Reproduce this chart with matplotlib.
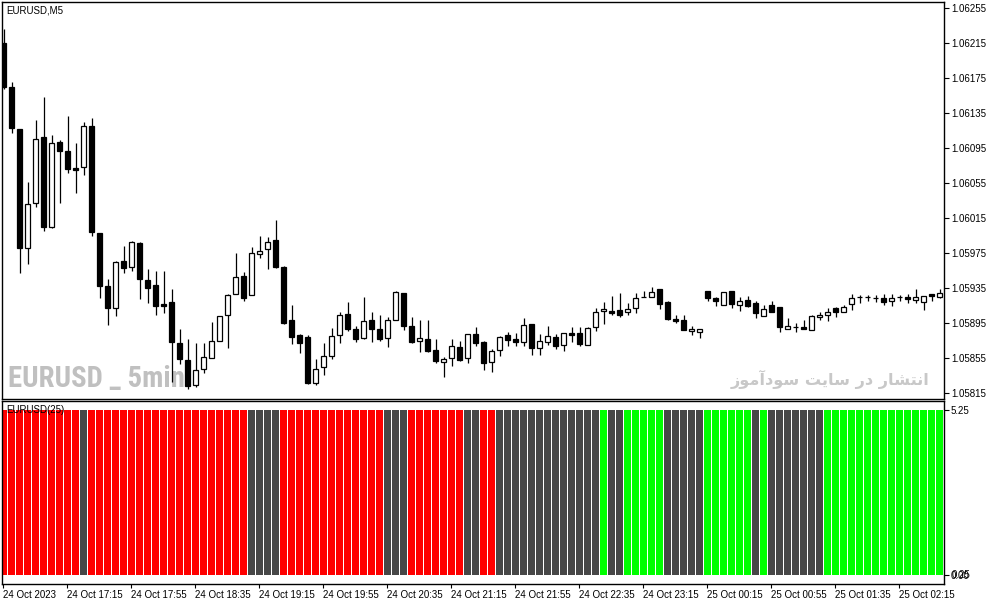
import matplotlib.pyplot as plt
import numpy as np

# EURUSD M5 candles, 24 Oct 2023 16:35 onwards (one entry per bar)
opens = [1.06215, 1.06165, 1.06117, 1.05981, 1.06032, 1.06108, 1.06005, 1.06102, 1.06092, 1.06072,
         1.06074, 1.06120, 1.05998, 1.05938, 1.05912, 1.05966, 1.05959, 1.05987, 1.05944, 1.05939,
         1.05917, 1.05919, 1.05872, 1.05853, 1.05824, 1.05843, 1.05855, 1.05875, 1.05905, 1.05928,
         1.05949, 1.05927, 1.05974, 1.05980, 1.05990, 1.05959, 1.05899, 1.05882, 1.05879, 1.05827,
         1.05845, 1.05858, 1.05882, 1.05906, 1.05888, 1.05878, 1.05899, 1.05888, 1.05878, 1.05899,
         1.05930, 1.05892, 1.05875, 1.05877, 1.05864, 1.05851, 1.05855, 1.05868, 1.05855, 1.05883,
         1.05874, 1.05851, 1.05864, 1.05882, 1.05877, 1.05874, 1.05894, 1.05867, 1.05874, 1.05879,
         1.05870, 1.05884, 1.05884, 1.05870, 1.05891, 1.05909, 1.05909, 1.05910, 1.05908, 1.05912,
         1.05925, 1.05925, 1.05934, 1.05919, 1.05900, 1.05899, 1.05886, 1.05885, 1.05932, 1.05924,
         1.05916, 1.05932, 1.05916, 1.05922, 1.05918, 1.05903, 1.05916, 1.05914, 1.05888, 1.05891,
         1.05891, 1.05887, 1.05902, 1.05905, 1.05912, 1.05908, 1.05917, 1.05925, 1.05925, 1.05924,
         1.05924, 1.05920, 1.05925, 1.05925, 1.05922, 1.05919, 1.05928, 1.05925]
highs = [1.06231, 1.06171, 1.06117, 1.06056, 1.06127, 1.06154, 1.06110, 1.06104, 1.06132, 1.06101,
         1.06125, 1.06130, 1.05998, 1.05946, 1.05966, 1.05983, 1.05989, 1.05988, 1.05957, 1.05955,
         1.05955, 1.05934, 1.05888, 1.05877, 1.05872, 1.05872, 1.05896, 1.05903, 1.05928, 1.05975,
         1.05954, 1.05982, 1.05995, 1.05994, 1.06013, 1.05960, 1.05916, 1.05883, 1.05882, 1.05854,
         1.05872, 1.05890, 1.05908, 1.05919, 1.05892, 1.05925, 1.05908, 1.05905, 1.05902, 1.05932,
         1.05930, 1.05902, 1.05899, 1.05899, 1.05877, 1.05856, 1.05877, 1.05875, 1.05883, 1.05891,
         1.05875, 1.05866, 1.05880, 1.05885, 1.05884, 1.05901, 1.05894, 1.05883, 1.05892, 1.05883,
         1.05884, 1.05891, 1.05891, 1.05891, 1.05912, 1.05919, 1.05926, 1.05930, 1.05918, 1.05930,
         1.05932, 1.05936, 1.05934, 1.05920, 1.05905, 1.05905, 1.05892, 1.05888, 1.05932, 1.05925,
         1.05931, 1.05932, 1.05925, 1.05926, 1.05920, 1.05916, 1.05920, 1.05914, 1.05901, 1.05895,
         1.05899, 1.05905, 1.05908, 1.05912, 1.05914, 1.05916, 1.05928, 1.05927, 1.05927, 1.05927,
         1.05928, 1.05928, 1.05927, 1.05928, 1.05934, 1.05926, 1.05928, 1.05934]
lows = [1.06163, 1.06113, 1.05952, 1.05963, 1.06028, 1.06000, 1.06004, 1.06032, 1.06067, 1.06044,
        1.06064, 1.05995, 1.05924, 1.05893, 1.05903, 1.05952, 1.05955, 1.05923, 1.05918, 1.05904,
        1.05907, 1.05828, 1.05848, 1.05820, 1.05822, 1.05838, 1.05855, 1.05875, 1.05867, 1.05928,
        1.05920, 1.05927, 1.05970, 1.05957, 1.05958, 1.05894, 1.05871, 1.05861, 1.05826, 1.05824,
        1.05836, 1.05854, 1.05872, 1.05886, 1.05874, 1.05877, 1.05874, 1.05875, 1.05868, 1.05899,
        1.05887, 1.05872, 1.05862, 1.05862, 1.05850, 1.05834, 1.05846, 1.05852, 1.05850, 1.05869,
        1.05842, 1.05839, 1.05858, 1.05869, 1.05869, 1.05869, 1.05859, 1.05859, 1.05870, 1.05866,
        1.05863, 1.05874, 1.05869, 1.05870, 1.05886, 1.05894, 1.05905, 1.05902, 1.05905, 1.05907,
        1.05925, 1.05925, 1.05911, 1.05899, 1.05895, 1.05887, 1.05882, 1.05878, 1.05920, 1.05915,
        1.05916, 1.05912, 1.05909, 1.05914, 1.05901, 1.05903, 1.05908, 1.05885, 1.05888, 1.05885,
        1.05888, 1.05887, 1.05899, 1.05898, 1.05902, 1.05908, 1.05910, 1.05918, 1.05920, 1.05919,
        1.05916, 1.05915, 1.05920, 1.05918, 1.05918, 1.05910, 1.05920, 1.05924]
closes = [1.06165, 1.06118, 1.05981, 1.06031, 1.06106, 1.06005, 1.06101, 1.06092, 1.06071, 1.06070,
          1.06120, 1.05999, 1.05938, 1.05912, 1.05965, 1.05958, 1.05988, 1.05946, 1.05935, 1.05915,
          1.05915, 1.05874, 1.05854, 1.05823, 1.05842, 1.05856, 1.05875, 1.05903, 1.05927, 1.05948,
          1.05924, 1.05975, 1.05978, 1.05988, 1.05959, 1.05895, 1.05879, 1.05872, 1.05827, 1.05843,
          1.05858, 1.05880, 1.05905, 1.05888, 1.05877, 1.05898, 1.05888, 1.05877, 1.05899, 1.05931,
          1.05892, 1.05874, 1.05878, 1.05863, 1.05852, 1.05854, 1.05869, 1.05853, 1.05883, 1.05872,
          1.05850, 1.05863, 1.05879, 1.05876, 1.05874, 1.05893, 1.05867, 1.05875, 1.05881, 1.05869,
          1.05884, 1.05882, 1.05871, 1.05890, 1.05908, 1.05911, 1.05907, 1.05905, 1.05911, 1.05924,
          1.05925, 1.05931, 1.05917, 1.05900, 1.05898, 1.05887, 1.05888, 1.05888, 1.05924, 1.05920,
          1.05931, 1.05917, 1.05920, 1.05915, 1.05907, 1.05911, 1.05908, 1.05891, 1.05892, 1.05891,
          1.05888, 1.05903, 1.05905, 1.05908, 1.05908, 1.05914, 1.05924, 1.05925, 1.05925, 1.05924,
          1.05919, 1.05924, 1.05925, 1.05923, 1.05925, 1.05926, 1.05926, 1.05930]

# EURUSD(25) histogram: state runs (colour, number of bars), every bar at full height
hist_runs = [("red", 10), ("grey", 1), ("red", 20), ("grey", 4), ("red", 13), ("grey", 3),
             ("red", 7), ("grey", 2), ("red", 2), ("grey", 13), ("green", 1), ("grey", 2),
             ("green", 5), ("grey", 5), ("green", 6), ("grey", 1), ("green", 1), ("grey", 7),
             ("green", 15)]
hist_level = 5.25

price_ticks = [1.06255, 1.06215, 1.06175, 1.06135, 1.06095, 1.06055, 1.06015,
               1.05975, 1.05935, 1.05895, 1.05855, 1.05815]
time_labels = ["24 Oct 2023", "24 Oct 17:15", "24 Oct 17:55", "24 Oct 18:35", "24 Oct 19:15",
               "24 Oct 19:55", "24 Oct 20:35", "24 Oct 21:15", "24 Oct 21:55", "24 Oct 22:35",
               "24 Oct 23:15", "25 Oct 00:15", "25 Oct 00:55", "25 Oct 01:35", "25 Oct 02:15"]
bars_per_label = 8

watermark_text = "انتشار در سایت سودآموز"

# matplotlib has no arabic shaping, so pick presentation forms by hand
AR_FORMS = {  # isolated, final[, initial, medial]
    "ا": "\ufe8d\ufe8e", "آ": "\ufe81\ufe82", "ر": "\ufead\ufeae", "د": "\ufea9\ufeaa",
    "ز": "\ufeaf\ufeb0", "و": "\ufeed\ufeee",
    "ن": "\ufee5\ufee6\ufee7\ufee8", "ت": "\ufe95\ufe96\ufe97\ufe98",
    "ش": "\ufeb5\ufeb6\ufeb7\ufeb8", "س": "\ufeb1\ufeb2\ufeb3\ufeb4",
    "م": "\ufee1\ufee2\ufee3\ufee4", "ی": "\ufbfc\ufbfd\ufef3\ufef4",
}


def shape_rtl(text):
    out = []
    for i, ch in enumerate(text):
        forms = AR_FORMS.get(ch)
        if forms is None:
            out.append(ch)
            continue
        prev = text[i - 1] if i > 0 else " "
        nxt = text[i + 1] if i + 1 < len(text) else " "
        join_prev = len(AR_FORMS.get(prev, "")) == 4
        join_next = len(forms) == 4 and nxt in AR_FORMS
        out.append(forms[int(join_prev) + 2 * int(join_next)])
    return "".join(out[::-1])


W, H = 991, 605


def box(x0, y0, x1, y1):
    return [x0 / W, 1 - y1 / H, (x1 - x0) / W, (y1 - y0) / H]


SMALL = dict(fontsize=7, family=["Liberation Sans", "DejaVu Sans"])

fig = plt.figure(figsize=(W / 100, H / 100), dpi=100)
ax = fig.add_axes(box(2, 2.3, 944, 399))
ax2 = fig.add_axes(box(2, 401.3, 944, 584), sharex=ax)

o = np.array(opens)
h = np.array(highs)
l = np.array(lows)
c = np.array(closes)
x = np.arange(len(o))

# candles
ax.vlines(x, l, h, color="black", linewidth=0.9, zorder=2)
up = c > o
dn = c < o
eq = c == o
ax.bar(x[up], (c - o)[up], bottom=o[up], width=0.6, facecolor="white",
       edgecolor="black", linewidth=0.9, zorder=3)
ax.bar(x[dn], (o - c)[dn], bottom=c[dn], width=0.6, facecolor="black",
       edgecolor="black", linewidth=0.9, zorder=3)
ax.hlines(o[eq], x[eq] - 0.35, x[eq] + 0.35, color="black", linewidth=0.9, zorder=3)

ax.set_xlim(-0.19, 117.56)
ax.set_ylim(1.058085, 1.062619)
ax.set_yticks(price_ticks)
ax.set_yticklabels([f"{p:.5f}" for p in price_ticks])
ax.yaxis.tick_right()
ax.tick_params(axis="y", direction="out", length=3.5, width=0.8, pad=1.5,
               labelsize=SMALL["fontsize"])
ax.tick_params(axis="x", bottom=False, labelbottom=False)
for t in ax.get_yticklabels():
    t.set_family(SMALL["family"])

ax.text(0.005, 0.979, "EURUSD,M5", transform=ax.transAxes, va="center", ha="left", **SMALL)
wm_left = ax.text(0.0065, 0.05, "EURUSD _ 5min", transform=ax.transAxes, va="center",
                  ha="left", fontsize=24, weight="bold", color="#c0c0c0",
                  family=["Roboto Condensed", "Liberation Sans Narrow", "DejaVu Sans"],
                  fontstretch="condensed", zorder=1)
wm_right = ax.text(0.985, 0.05, shape_rtl(watermark_text), transform=ax.transAxes,
                   va="center", ha="right", fontsize=14, weight="bold", color="#c8c8c8",
                   family=["DejaVu Sans"], zorder=1)

# indicator histogram
palette = {"red": "#ff0000", "grey": "#474747", "green": "#00ff00"}
hist_colors = [palette[name] for name, n in hist_runs for _ in range(n)]
ax2.bar(x, [hist_level] * len(x), width=0.86, color=hist_colors, linewidth=0)
ax2.set_ylim(-0.286, 5.527)
ax2.set_yticks([0, hist_level])
ax2.set_yticklabels(["0.00", "5.25"])
ax2.yaxis.tick_right()
ax2.tick_params(axis="y", direction="out", length=3.5, width=0.8, pad=1.5,
                labelsize=SMALL["fontsize"])
for t in ax2.get_yticklabels():
    t.set_family(SMALL["family"])
ax2.text(1.0085, 0.049, "0.25", transform=ax2.transAxes, va="center", ha="left", **SMALL)
ax2.text(0.005, 0.95, "EURUSD(25)", transform=ax2.transAxes, va="center", ha="left", **SMALL)

tick_pos = np.arange(len(time_labels)) * bars_per_label - 0.1
ax2.set_xticks(tick_pos)
ax2.set_xticklabels(time_labels)
ax2.tick_params(axis="x", direction="out", length=3, width=0.8, pad=1.5,
                labelsize=SMALL["fontsize"])
for t in ax2.get_xticklabels():
    t.set_horizontalalignment("left")
    t.set_family(SMALL["family"])

for a in (ax, ax2):
    for s in a.spines.values():
        s.set_linewidth(1.0)
        s.set_color("black")

# shrink the watermarks to the pixel widths seen on the chart
fig.canvas.draw()
renderer = fig.canvas.get_renderer()
for txt, target_px in ((wm_left, 177), (wm_right, 200)):
    width_px = txt.get_window_extent(renderer).width
    txt.set_fontsize(txt.get_fontsize() * target_px / width_px)

fig.savefig("out.png", dpi=100, facecolor="white")
